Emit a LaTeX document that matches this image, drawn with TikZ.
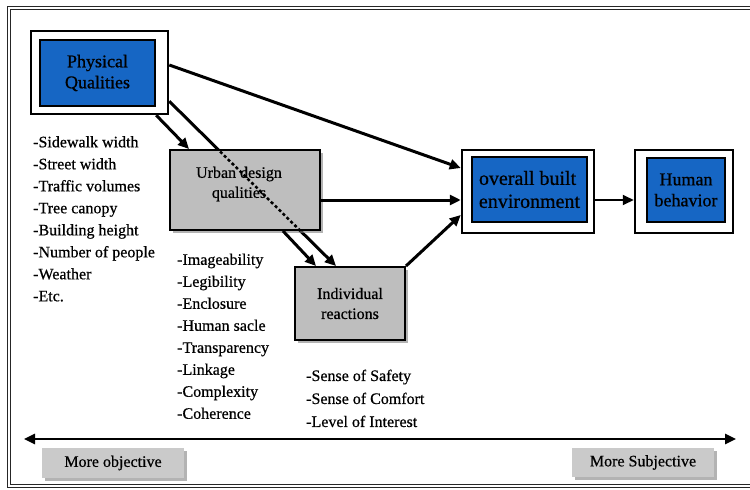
\documentclass[tikz,border=0pt]{standalone}
\usepackage{fontspec}
\setmainfont{Liberation Serif}[FakeBold=0.6]
\usetikzlibrary{arrows.meta,shadows,backgrounds}
\definecolor{qualblue}{RGB}{22,102,196}
\definecolor{boxgray}{RGB}{190,190,190}
\definecolor{taggray}{RGB}{202,202,202}
\begin{document}
\begin{tikzpicture}[x=1pt,y=-1pt,
    every node/.style={inner sep=0pt},
    framebox/.style={draw, line width=2.5pt, fill=white},
    bluebox/.style={draw, line width=2pt, fill=qualblue, align=center,
        font=\fontsize{18}{21}\selectfont},
    graybox/.style={draw, line width=2pt, fill=boxgray, align=center,
        font=\fontsize{16}{20}\selectfont,
        drop shadow={shadow xshift=3pt, shadow yshift=-3pt, opacity=0.6}},
    tagbox/.style={fill=taggray, font=\fontsize{16}{18}\selectfont,
        drop shadow={shadow xshift=3pt, shadow yshift=-3pt, opacity=0.6}},
    itemlist/.style={anchor=north west, align=left,
        font=\fontsize{16}{22}\selectfont},
    flow/.style={line width=3pt, -{Triangle[length=11pt,width=10pt]}},
    objaxis/.style={line width=2.5pt, {Triangle[length=11pt,width=10pt]}-{Triangle[length=11pt,width=10pt]}}]
\useasboundingbox (0,0) rectangle (750,490);

% boxes
\node[framebox, minimum width=137pt, minimum height=83pt] (phys) at (99.5,72.5) {};
\node[bluebox, minimum width=115pt, minimum height=66pt] (physin) at (97.5,73) {Physical\\Qualities};
\node[graybox, minimum width=150pt, minimum height=80pt] (urban) at (245,190) {};
\node[font=\fontsize{16}{20}\selectfont, align=center] (urbanlabel) at (239,184) {Urban design\\qualities};
\node[graybox, minimum width=110pt, minimum height=73pt] (indiv) at (350,303.5) {Individual\\reactions};
\node[framebox, minimum width=132pt, minimum height=83pt] (overall) at (528,191.5) {};
\node[bluebox, minimum width=115pt, minimum height=65pt, align=left,
      font=\fontsize{20}{23}\selectfont] (overallin) at (529.5,189.5) {overall built\\environment};
\node[framebox, minimum width=98pt, minimum height=83pt] (human) at (684,191.5) {};
\node[bluebox, minimum width=78pt, minimum height=64pt] (humanin) at (686,190) {Human\\behavior};
\node[tagbox, minimum width=142pt, minimum height=30pt] (objective) at (113,463) {More objective};
\node[tagbox, minimum width=142pt, minimum height=29pt] (subjective) at (643,462.5) {More Subjective};

% lists
\node[itemlist] (physlist) at (33,136) {-Sidewalk width\\-Street width\\-Traffic volumes\\-Tree canopy\\-Building height\\-Number of people\\-Weather\\-Etc.};
\node[itemlist] (urbanlist) at (177,253.5) {-Imageability\\-Legibility\\-Enclosure\\-Human sacle\\-Transparency\\-Linkage\\-Complexity\\-Coherence};
\node[itemlist, font=\fontsize{16}{23}\selectfont] (indivlist) at (306,369.5) {-Sense of Safety\\-Sense of Comfort\\-Level of Interest};

% frame and the arrow behind the urban box
\begin{scope}[on background layer]
\draw[double, line width=1.3pt, double distance=1.6pt, draw=black!85] (9,8) rectangle (780,486);
\draw[flow] ([yshift=14pt]phys.south east) -- ([xshift=-14pt]indiv.north);
\end{scope}
\begin{scope}
\clip (urban.south west) rectangle (urban.north east);
\draw[line width=2.5pt, dash pattern=on 3pt off 2.5pt] ([yshift=14pt]phys.south east) -- ([xshift=-14pt]indiv.north);
\end{scope}

% connectors
\draw[flow] ([yshift=7.5pt]phys.east) -- ([yshift=23.5pt]overall.west);
\draw[flow] ([xshift=-13pt]phys.south east) -- ([xshift=20pt]urban.north west);
\draw[flow] ([xshift=38pt]urban.south) -- ([xshift=-34pt]indiv.north);
\draw[flow] ([yshift=-10pt]urban.east) -- ([yshift=-10pt]urban.east -| overall.west);
\draw[flow] (indiv.north east) -- ([yshift=-23.5pt]overall.west);
\draw[flow, line width=2pt] ([yshift=-8.5pt]overall.east) -- ([yshift=-8.5pt]overall.east -| human.west);

\coordinate (axleft) at (24,439);
\coordinate (axright) at (736,439);
\draw[objaxis] (axleft) -- (axright);
\end{tikzpicture}
\end{document}
